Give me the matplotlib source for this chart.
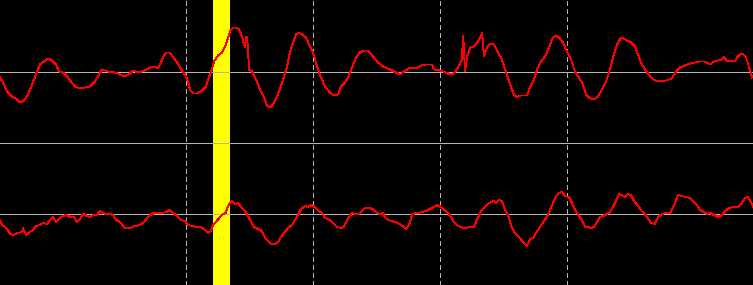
import matplotlib
matplotlib.use('Agg')
import matplotlib.pyplot as plt
import numpy as np

# sample positions / amplitudes (amplitude up = positive)
top_x = [0, 3, 7, 12, 17, 20, 24, 28, 31, 34, 37, 40, 44, 48, 52, 56, 59, 63, 67, 71,
         75, 80, 85, 90, 95, 99, 102, 108, 115, 120, 125, 130, 133, 138, 145, 150, 155, 158, 160, 163,
         166, 170, 174, 178, 181, 185, 188, 190, 193, 197, 202, 206, 208, 211, 214, 218, 222, 225, 228, 230,
         233, 236, 239, 242, 244, 245, 246, 247, 248, 249, 252, 256, 260, 264, 267, 270, 273, 277, 281, 284,
         287, 290, 293, 296, 299, 302, 306, 310, 313, 316, 318, 321, 325, 330, 334, 338, 341, 345, 348, 352,
         356, 360, 364, 368, 373, 378, 383, 390, 396, 400, 404, 410, 416, 421, 426, 432, 434, 440, 446, 450,
         454, 458, 461, 462, 463, 464, 465, 467, 470, 474, 478, 481, 482, 484, 487, 490, 494, 498, 502, 505,
         508, 511, 514, 517, 520, 527, 530, 534, 537, 541, 545, 549, 552, 555, 559, 563, 567, 571, 575, 579,
         583, 586, 590, 594, 598, 602, 606, 610, 613, 616, 619, 622, 627, 631, 635, 638, 641, 645, 650, 655,
         660, 666, 672, 676, 680, 685, 690, 695, 700, 705, 710, 714, 718, 722, 724, 727, 731, 735, 737, 740,
         743, 746, 749, 752]
top_y = [-6, -11, -20, -25, -28, -31, -29, -23, -16, -8, 0, 7, 10, 13, 11, 7, 0, -1, -5, -10,
         -15, -17, -16, -15, -10, -3, 2, 0, -1, -3, -5, -2, 1, -1, 1, 4, 5, 3, 7, 14,
         19, 19, 13, 8, 2, -3, -10, -18, -22, -22, -19, -15, -8, -1, 10, 16, 19, 25, 33, 40,
         44, 44, 42, 35, 27, 24, 34, 35, 22, 2, 0, -8, -18, -26, -34, -36, -33, -25, -15, -5,
         5, 19, 29, 37, 39, 37, 34, 25, 19, 9, 2, -6, -15, -21, -24, -23, -15, -11, -6, 4,
         14, 19, 21, 21, 15, 9, 5, 2, -1, -3, 0, 4, 3, 6, 7, 7, 2, 1, -1, -3,
         -2, 4, 10, 12, 36, 22, 0, 14, 24, 25, 30, 36, 39, 15, 24, 28, 27, 19, 12, 2,
         -6, -16, -23, -26, -24, -24, -16, -8, 2, 10, 15, 24, 32, 36, 34, 29, 20, 12, 0, -6,
         -13, -23, -27, -28, -25, -18, -10, 2, 14, 24, 31, 34, 31, 29, 25, 17, 9, 2, -5, -9,
         -10, -9, -7, 0, 4, 6, 8, 9, 10, 10, 7, 10, 11, 12, 15, 10, 11, 10, 14, 17,
         18, 14, 5, -6]

bot_x = [0, 2, 5, 8, 10, 13, 18, 22, 23, 26, 30, 33, 36, 40, 43, 47, 50, 53, 56, 60,
         63, 66, 70, 74, 77, 80, 83, 87, 90, 93, 97, 100, 103, 106, 110, 113, 116, 120, 125, 130,
         135, 140, 144, 147, 150, 154, 158, 162, 166, 170, 173, 177, 181, 185, 188, 192, 197, 201, 205, 208,
         211, 213, 216, 220, 223, 226, 227, 230, 232, 235, 238, 241, 244, 247, 250, 254, 258, 262, 265, 268,
         271, 275, 278, 281, 284, 288, 292, 295, 298, 301, 305, 308, 311, 315, 319, 322, 325, 330, 333, 337,
         341, 344, 346, 349, 352, 355, 359, 362, 365, 370, 374, 377, 380, 383, 385, 388, 392, 395, 398, 401,
         404, 406, 408, 410, 412, 415, 418, 422, 426, 430, 434, 437, 441, 444, 446, 448, 451, 454, 457, 460,
         465, 470, 474, 476, 479, 482, 485, 488, 491, 494, 496, 499, 502, 505, 508, 511, 514, 517, 520, 523,
         527, 530, 533, 536, 540, 544, 547, 550, 553, 556, 559, 562, 565, 569, 572, 575, 579, 582, 585, 588,
         591, 594, 597, 600, 603, 607, 610, 613, 616, 619, 622, 625, 628, 631, 634, 638, 641, 644, 647, 651,
         655, 658, 662, 666, 670, 673, 675, 678, 682, 686, 690, 694, 697, 700, 704, 707, 710, 714, 718, 722,
         726, 730, 733, 738, 741, 745, 748, 751, 753]
bot_y = [-6, -11, -13, -16, -20, -21, -19, -18, -14, -21, -18, -16, -12, -11, -9, -10, -6, -3, -8, -4,
         -2, -1, -3, -3, -8, -5, 0, -2, -3, -1, -1, 3, 1, 0, 0, -1, -6, -8, -14, -14,
         -12, -11, -8, -4, -1, 1, 1, 1, 2, 4, 1, -2, -6, -7, -11, -12, -13, -13, -16, -19,
         -17, -11, -8, -3, 0, 1, 6, 11, 13, 10, 11, 7, 4, 0, -6, -13, -15, -17, -24, -27,
         -30, -30, -28, -23, -19, -14, -11, -6, -1, 5, 8, 7, 9, 7, 3, 1, -4, -6, -9, -13,
         -14, -13, -8, -3, 1, 0, 0, 3, 6, 6, 4, 1, 0, 1, -3, -6, -7, -8, -9, -11,
         -13, -15, -13, -8, -1, 1, 1, 2, 3, 5, 7, 9, 7, 4, 3, 1, -3, -8, -11, -13,
         -14, -13, -13, -8, -1, 4, 7, 10, 12, 13, 11, 14, 13, 4, -1, -11, -18, -21, -24, -28,
         -32, -25, -24, -19, -13, -7, -3, 4, 11, 18, 21, 22, 18, 17, 11, 4, -2, -6, -13, -13,
         -14, -13, -8, -3, -2, 0, 2, 7, 13, 20, 19, 17, 20, 19, 13, 8, 4, 1, -3, -9,
         -10, -3, 0, 1, 1, 6, 11, 19, 18, 17, 16, 12, 9, 4, 2, 0, 1, -1, -3, -1,
         4, 6, 7, 7, 10, 16, 17, 12, 7]

grid_x = [186.5, 313.5, 440.5, 567.5]
band = (213, 230)
top_base = 71
bot_base = -71.5

px = 1 / 100
fig = plt.figure(figsize=(753 * px, 285 * px), dpi=100, facecolor='black')
ax = fig.add_axes([0, 0, 1, 1])
ax.set_facecolor('black')
ax.set_xlim(0, 753)
ax.set_ylim(-142.5, 142.5)
ax.axis('off')

# highlighted window
ax.axvspan(band[0], band[1], color='#ffff00', lw=0, zorder=1)

# dashed time markers
for gx in grid_x:
    ax.axvline(gx, color='#b4b4b4', lw=0.72, ls=(0, (5, 3)), zorder=2, antialiased=False)

# baselines and separator
for yb in (top_base, 0, bot_base):
    ax.axhline(yb, color='#b4b4b4', lw=0.72, zorder=3, antialiased=False)

# traces drawn crisp, like the original screen capture
ax.plot(top_x, np.array(top_y) + top_base, color='#ff0000', lw=0.68, zorder=4, antialiased=False)
ax.plot(bot_x, np.array(bot_y) + bot_base, color='#ff0000', lw=0.68, zorder=4, antialiased=False)

fig.savefig('out.png', dpi=100, facecolor='black')
